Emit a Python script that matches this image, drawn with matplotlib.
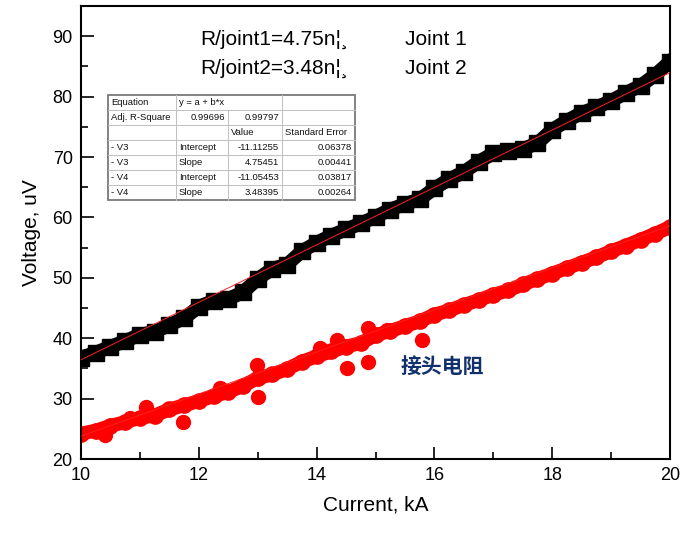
import matplotlib.pyplot as plt
from matplotlib.patches import Rectangle
from matplotlib.ticker import MultipleLocator

plt.rcParams['font.family'] = ['Liberation Sans', 'DejaVu Sans']

current = [10.0, 10.25, 10.5, 10.75, 11.0, 11.25, 11.5, 11.75, 12.0, 12.25,
           12.5, 12.75, 13.0, 13.25, 13.5, 13.75, 14.0, 14.25, 14.5, 14.75,
           15.0, 15.25, 15.5, 15.75, 16.0, 16.25, 16.5, 16.75, 17.0, 17.25,
           17.5, 17.75, 18.0, 18.25, 18.5, 18.75, 19.0, 19.25, 19.5, 19.75, 20.0]
v3 = [36.8, 37.6, 38.6, 39.5, 40.6, 41.0, 42.2, 43.3, 45.2, 46.2,
      46.5, 47.6, 49.8, 51.5, 52.2, 54.4, 55.8, 57.0, 58.0, 59.0,
      60.1, 61.3, 62.2, 63.0, 64.8, 66.3, 67.5, 69.2, 70.6, 71.0,
      71.3, 72.3, 74.5, 76.0, 77.3, 78.2, 79.3, 80.6, 81.8, 83.6, 85.8]
v4 = [24.2, 24.7, 25.5, 26.1, 26.8, 27.2, 28.2, 28.9, 29.6, 30.4,
      31.1, 32.1, 33.4, 34.0, 34.9, 36.1, 37.0, 37.8, 38.6, 39.2,
      40.5, 41.2, 42.0, 42.8, 43.9, 44.6, 45.5, 46.3, 47.2, 47.9,
      48.9, 49.8, 50.7, 51.6, 52.5, 53.4, 54.4, 55.3, 56.3, 57.3, 58.4]
# V4 points sticking out of the band
v4_out_x = [10.4, 10.83, 11.1, 11.73, 12.36, 12.98, 13.0, 14.06, 14.35, 14.52, 14.87, 14.87, 15.2, 15.79]
v4_out_y = [24.0, 26.8, 28.6, 26.1, 31.8, 35.6, 30.3, 38.4, 39.7, 35.1, 41.7, 36.1, 41.4, 39.7]

# linear fit results (Origin table)
fit_names = ['V3', 'V4']
intercepts = [-11.11255, -11.05453]
slopes = [4.75451, 3.48395]
intercept_err = [0.06378, 0.03817]
slope_err = [0.00441, 0.00264]
adj_r2 = [0.99696, 0.99797]

fig = plt.figure(figsize=(6.87, 5.39), dpi=100)
ax = fig.add_axes([81 / 687, 80 / 539, 589 / 687, 453 / 539])

ax.plot(current, v3, color='black', lw=10, marker='s', ms=11, zorder=2)
ax.plot(current, v4, color='red', lw=10, marker='o', ms=11, zorder=2)
ax.plot(v4_out_x, v4_out_y, 'o', color='red', ms=10, zorder=2)

xs = [10, 20]
for a, b in zip(intercepts, slopes):
    ax.plot(xs, [a + b * x for x in xs], color='#ff2020', lw=0.7, zorder=3)

ax.set_xlim(10, 20)
ax.set_ylim(20, 95)
ax.xaxis.set_major_locator(MultipleLocator(2))
ax.xaxis.set_minor_locator(MultipleLocator(1))
ax.yaxis.set_major_locator(MultipleLocator(10))
ax.yaxis.set_minor_locator(MultipleLocator(5))
ax.tick_params(which='both', direction='in', width=1.2, labelsize=13, pad=6)
ax.tick_params(which='major', length=9)
ax.tick_params(which='minor', length=5)
for s in ax.spines.values():
    s.set_linewidth(1.5)
ax.set_yticks([20, 30, 40, 50, 60, 70, 80, 90])

ax.set_xlabel('Current, kA', fontsize=15, labelpad=8)
ax.set_ylabel('Voltage, uV', fontsize=15, labelpad=8)

ax.text(12.02, 89.4, 'R/joint1=4.75n¦¸', fontsize=15, va='center')
ax.text(12.02, 84.7, 'R/joint2=3.48n¦¸', fontsize=15, va='center')
ax.text(15.5, 89.4, 'Joint 1', fontsize=15, va='center')
ax.text(15.5, 84.7, 'Joint 2', fontsize=15, va='center')
ax.text(15.42, 35.1, '接头电阻', fontsize=15, fontweight='bold', color='#12306c',
        va='center', family=['Noto Sans CJK SC', 'DejaVu Sans'])

# fit table drawn in pixel positions
def fx(px):
    return px / 687

def fy(py):
    return 1 - py / 539

col_x = [108, 176, 228, 282, 355]
row_y = [95, 110, 125, 140, 155, 170, 185, 200]
rows = [['Equation', 'y = a + b*x', '', ''],
        ['Adj. R-Square', '%.5f' % adj_r2[0], '%.5f' % adj_r2[1], ''],
        ['', '', 'Value', 'Standard Error']]
for n, a, b, ea, eb in zip(fit_names, intercepts, slopes, intercept_err, slope_err):
    rows.append(['- ' + n, 'Intercept', '%.5f' % a, '%.5f' % ea])
    rows.append(['- ' + n, 'Slope', '%.5f' % b, '%.5f' % eb])

fig.patches.append(Rectangle((fx(col_x[0]), fy(row_y[-1])), fx(col_x[-1]) - fx(col_x[0]),
                             fy(row_y[0]) - fy(row_y[-1]), transform=fig.transFigure,
                             facecolor='white', edgecolor='#7a7a7a', lw=1.3, zorder=5))
grid = dict(color='#c0c0c0', lw=0.7, transform=fig.transFigure, zorder=6)
for py in row_y[1:-1]:
    fig.add_artist(plt.Line2D([fx(col_x[0]), fx(col_x[-1])], [fy(py), fy(py)], **grid))
for i, px in enumerate(col_x[1:-1]):
    top = row_y[1] if i == 1 else row_y[0]
    fig.add_artist(plt.Line2D([fx(px), fx(px)], [fy(top), fy(row_y[-1])], **grid))

tfont = dict(fontsize=6.8, family=['Liberation Sans Narrow', 'Liberation Sans'], zorder=7,
             va='center', transform=fig.transFigure, color='#111111')
for r, row in enumerate(rows):
    yc = fy((row_y[r] + row_y[r + 1]) / 2)
    for c, txt in enumerate(row):
        if not txt:
            continue
        numeric = txt[0].isdigit() or txt[0] == '-' and txt[1].isdigit()
        if r == 1 and c > 0 or numeric:
            fig.text(fx(col_x[c + 1] - 3), yc, txt, ha='right', **tfont)
        else:
            fig.text(fx(col_x[c] + 3), yc, txt, ha='left', **tfont)

fig.savefig('out.png', dpi=100)
